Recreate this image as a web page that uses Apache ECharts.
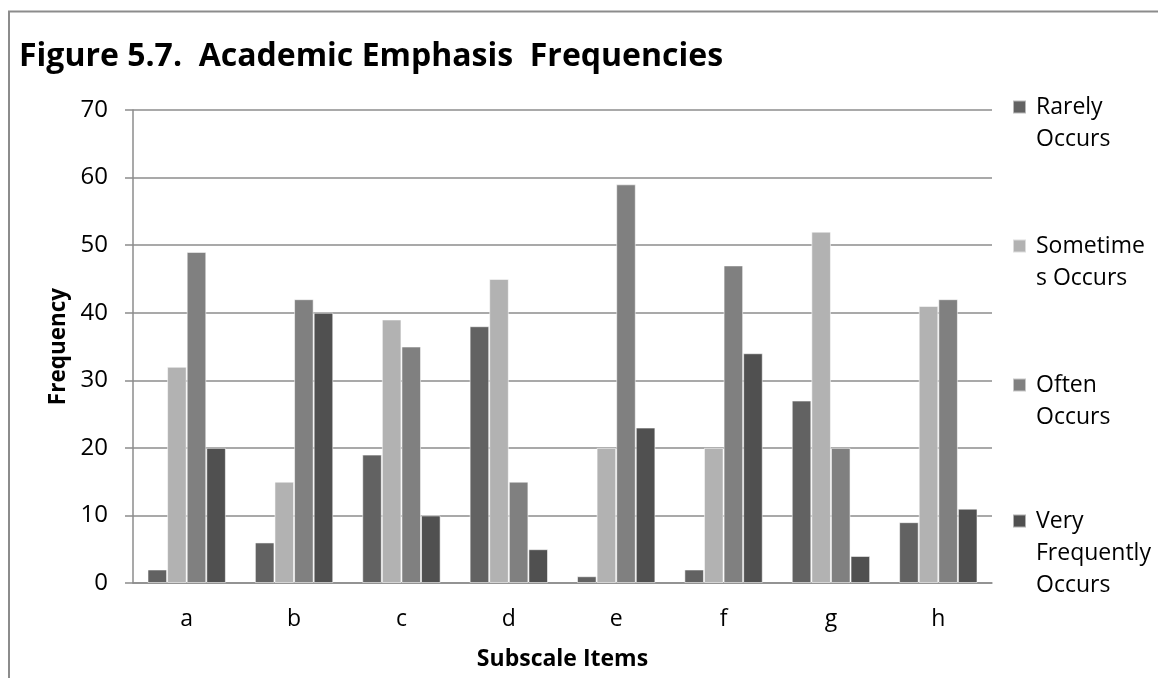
<!DOCTYPE html>
<html>
<head>
<meta charset="utf-8">
<title>Academic Emphasis Frequencies</title>
<script src="https://cdn.jsdelivr.net/npm/echarts@6/dist/echarts.min.js"></script>
<style>
  html, body { margin: 0; padding: 0; background: #ffffff; }
  #chart { width: 1158px; height: 678px; }
</style>
</head>
<body>
<div id="chart"></div>
<script>
// Subscale items on the x axis
const categories = ['a', 'b', 'c', 'd', 'e', 'f', 'g', 'h'];

// Frequency counts per response option
const rarelyOccurs     = [2, 6, 19, 38, 1, 2, 27, 9];
const sometimesOccurs  = [32, 15, 39, 45, 20, 20, 52, 41];
const oftenOccurs      = [49, 42, 35, 15, 59, 47, 20, 42];
const veryFreqOccurs   = [20, 40, 10, 5, 23, 34, 4, 11];

// Legend captions (wrapped as in the chart key)
const seriesNames = ['Rarely Occurs', 'Sometimes Occurs', 'Often Occurs', 'Very Frequently Occurs'];
const legendLabels = ['Rarely\nOccurs', 'Sometime\ns Occurs', 'Often\nOccurs', 'Very\nFrequently\nOccurs'];

// Y axis ticks
const yMin = 0, yMax = 70, yStep = 10;

const seriesData = [rarelyOccurs, sometimesOccurs, oftenOccurs, veryFreqOccurs];
const seriesColors = ['#626262', '#b2b2b2', '#808080', '#505050'];

const FONT = '"Open Sans", "Noto Sans", sans-serif';
const LINE_H = 32;
const KEY = 13;      // size of the key square
const KEY_BOX_W = 18; // key box width, leaves room before the caption
const legendCenters = [107, 246, 385, 521];
const legendLabelMap = {};
seriesNames.forEach((n, i) => { legendLabelMap[n] = legendLabels[i]; });

// One legend block per series. The key symbol is a square in the top-left of a
// larger path box (the trailing moveTo only stretches the bounds), so the
// square lines up with the first line of the wrapped caption.
const legends = seriesNames.map((name, i) => {
  const lines = legendLabels[i].split('\n').length;
  const boxH = KEY + LINE_H * (lines - 1);
  return {
    data: [name],
    orient: 'vertical',
    left: 1012,
    top: legendCenters[i] - 16,
    padding: 0,
    itemWidth: KEY_BOX_W,
    itemHeight: boxH,
    icon: 'path://M0,0h' + KEY + 'v' + KEY + 'h-' + KEY + 'zM' + KEY_BOX_W + ',' + boxH,
    selectedMode: false,
    formatter: (n) => legendLabelMap[n],
    textStyle: {
      fontFamily: FONT,
      fontSize: 23,
      color: '#000000',
      lineHeight: LINE_H
    }
  };
});

const chart = echarts.init(document.getElementById('chart'), null, { renderer: 'canvas' });

chart.setOption({
  animation: false,
  backgroundColor: '#ffffff',
  title: {
    text: 'Figure 5.7.  Academic Emphasis  Frequencies',
    left: 19,
    top: 41,
    padding: 0,
    textStyle: { fontFamily: FONT, fontSize: 32, fontWeight: 'bold', color: '#000000' }
  },
  legend: legends,
  grid: { left: 133, right: 166, top: 110, bottom: 95, containLabel: false },
  xAxis: {
    type: 'category',
    data: categories,
    name: 'Subscale Items',
    nameLocation: 'middle',
    nameGap: 65,
    nameTextStyle: { fontFamily: FONT, fontSize: 23, fontWeight: 'bold', color: '#000000' },
    axisLine: { lineStyle: { color: '#8c8c8c', width: 1.5 } },
    axisTick: { show: false },
    axisLabel: { fontFamily: FONT, fontSize: 23, color: '#000000', margin: 25 }
  },
  yAxis: {
    type: 'value',
    min: yMin,
    max: yMax,
    interval: yStep,
    name: 'Frequency',
    nameLocation: 'middle',
    nameGap: 60,
    nameRotate: 90,
    nameTextStyle: { fontFamily: FONT, fontSize: 22.5, fontWeight: 'bold', color: '#000000' },
    axisLine: { show: true, lineStyle: { color: '#8c8c8c', width: 1.5 } },
    axisTick: { show: true, inside: false, length: 8, lineStyle: { color: '#8c8c8c', width: 1.5 } },
    axisLabel: { fontFamily: FONT, fontSize: 24, color: '#000000', margin: 25 },
    splitLine: { lineStyle: { color: '#8c8c8c', width: 1.5 } }
  },
  series: seriesNames.map((name, i) => ({
    name: name,
    type: 'bar',
    data: seriesData[i],
    barGap: '0%',
    barCategoryGap: '27%',
    itemStyle: { color: seriesColors[i], borderColor: 'rgba(255,255,255,0.55)', borderWidth: 1 }
  })),
  graphic: [
    {
      type: 'polyline',
      silent: true,
      shape: { points: [[9, 678], [9, 11.5], [1158, 11.5]] },
      style: { stroke: '#8c8c8c', lineWidth: 2, fill: null }
    }
  ]
});
</script>
</body>
</html>
